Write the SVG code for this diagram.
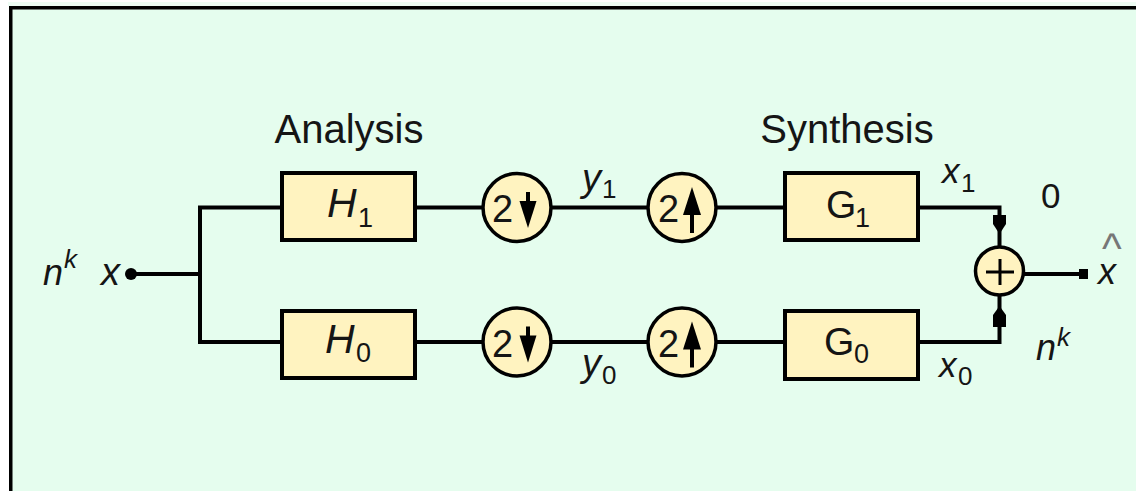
<svg xmlns="http://www.w3.org/2000/svg" width="1136" height="491" viewBox="0 0 1136 491">
<style>
.t{font-family:"Liberation Sans",Arial,sans-serif;fill:#151515}
.i{font-style:italic}
.box{fill:#FFF3C0;stroke:#000;stroke-width:4}
.ci{fill:#FFF3C0;stroke:#000;stroke-width:3.5}
.w{fill:none;stroke:#000;stroke-width:4}
.ar{fill:#000;stroke:none}
</style>
<rect x="0" y="0" width="1136" height="491" fill="#FFFFFF"/>
<rect x="8" y="2" width="1128" height="4" fill="#EEFDF4"/>
<rect x="9" y="6" width="1127" height="485" fill="#E5FDEE"/>
<rect x="9" y="6" width="1127" height="3.5" fill="#000"/>
<rect x="9" y="6" width="3.5" height="485" fill="#000"/>

<text class="t" x="349" y="143" font-size="40" text-anchor="middle">Analysis</text>
<text class="t" x="847" y="143" font-size="40" text-anchor="middle">Synthesis</text>

<g id="connectors">
<polyline class="w" points="131,274 200,274"/>
<polyline class="w" points="282,207.5 200,207.5 200,342 282,342"/>
<line class="w" x1="415" y1="207.5" x2="483" y2="207.5"/>
<line class="w" x1="551" y1="207.5" x2="648" y2="207.5"/>
<line class="w" x1="716" y1="207.5" x2="785" y2="207.5"/>
<line class="w" x1="415" y1="342" x2="483" y2="342"/>
<line class="w" x1="551" y1="342" x2="648" y2="342"/>
<line class="w" x1="716" y1="342" x2="785" y2="342"/>
<polyline class="w" points="918,207.5 999.5,207.5 999.5,247"/>
<polyline class="w" points="918,342 999.5,342 999.5,295"/>
<polygon class="ar" points="993,215 1006,215 1006,224 999.5,234 993,224"/>
<polygon class="ar" points="999.5,306 1006,315 1006,327 993,327 993,315"/>
<line class="w" x1="1023" y1="274" x2="1083" y2="274"/>
<circle cx="131" cy="274" r="6" fill="#000"/>
<rect x="1079" y="269" width="9" height="10" fill="#000"/>
</g>

<g id="input-label">
<text class="t i" x="43" y="285" font-size="36">n</text>
<text class="t i" x="64" y="268" font-size="26">k</text>
<text class="t i" x="101" y="285" font-size="38">x</text>
</g>

<g id="H1">
<rect class="box" x="282" y="173" width="133" height="67"/>
<text class="t i" x="327" y="217" font-size="41">H</text>
<text class="t" x="358" y="227" font-size="27">1</text>
</g>
<g id="H0">
<rect class="box" x="282" y="311" width="133" height="67"/>
<text class="t i" x="325" y="353" font-size="41">H</text>
<text class="t" x="356" y="362" font-size="27">0</text>
</g>

<g id="down1">
<circle class="ci" cx="517" cy="207.5" r="34"/>
<text class="t" x="492" y="222" font-size="38">2</text>
<line x1="528" y1="192" x2="528" y2="206" stroke="#000" stroke-width="4"/>
<polygon class="ar" points="519.5,201 536.5,201 528,228"/>
</g>
<g id="down0">
<circle class="ci" cx="517" cy="342" r="34"/>
<text class="t" x="492" y="356.5" font-size="38">2</text>
<line x1="528" y1="326.5" x2="528" y2="340" stroke="#000" stroke-width="4"/>
<polygon class="ar" points="519.5,335.5 536.5,335.5 528,362.5"/>
</g>
<g id="up1">
<circle class="ci" cx="682" cy="207.5" r="34"/>
<text class="t" x="658" y="222" font-size="38">2</text>
<line x1="692" y1="206" x2="692" y2="233" stroke="#000" stroke-width="4"/>
<polygon class="ar" points="692,187 701,215 683,215"/>
</g>
<g id="up0">
<circle class="ci" cx="682" cy="342" r="34"/>
<text class="t" x="658" y="356.5" font-size="38">2</text>
<line x1="692" y1="340" x2="692" y2="367.5" stroke="#000" stroke-width="4"/>
<polygon class="ar" points="692,321.5 701,349.5 683,349.5"/>
</g>

<g id="y-labels">
<text class="t i" x="582" y="191" font-size="38">y</text>
<text class="t" x="602" y="198" font-size="26">1</text>
<text class="t i" x="582" y="376" font-size="38">y</text>
<text class="t" x="602" y="384" font-size="26">0</text>
</g>

<g id="G1">
<rect class="box" x="785" y="173" width="133" height="67"/>
<text class="t" x="826" y="218" font-size="39">G</text>
<text class="t" x="855" y="227" font-size="27">1</text>
</g>
<g id="G0">
<rect class="box" x="785" y="311" width="133" height="68"/>
<text class="t" x="824" y="355" font-size="39">G</text>
<text class="t" x="854" y="363" font-size="27">0</text>
</g>

<g id="sum">
<circle class="ci" cx="999.5" cy="271" r="24"/>
<line x1="986" y1="272" x2="1014" y2="272" stroke="#000" stroke-width="3"/>
<line x1="1000" y1="259" x2="1000" y2="285" stroke="#000" stroke-width="3"/>
</g>

<g id="right-labels">
<text class="t i" x="942" y="183" font-size="35">x</text>
<text class="t" x="961" y="192" font-size="26">1</text>
<text class="t i" x="939" y="377" font-size="35">x</text>
<text class="t" x="958" y="385" font-size="26">0</text>
<text class="t" x="1041" y="208" font-size="35">0</text>
<text class="t i" x="1036" y="360" font-size="36">n</text>
<text class="t i" x="1057" y="346" font-size="26">k</text>
<text class="t" x="1098" y="284" font-size="36"><tspan font-style="italic">x</tspan><tspan x="1102" y="263" font-size="42" fill="#777">^</tspan></text>
</g>
</svg>
